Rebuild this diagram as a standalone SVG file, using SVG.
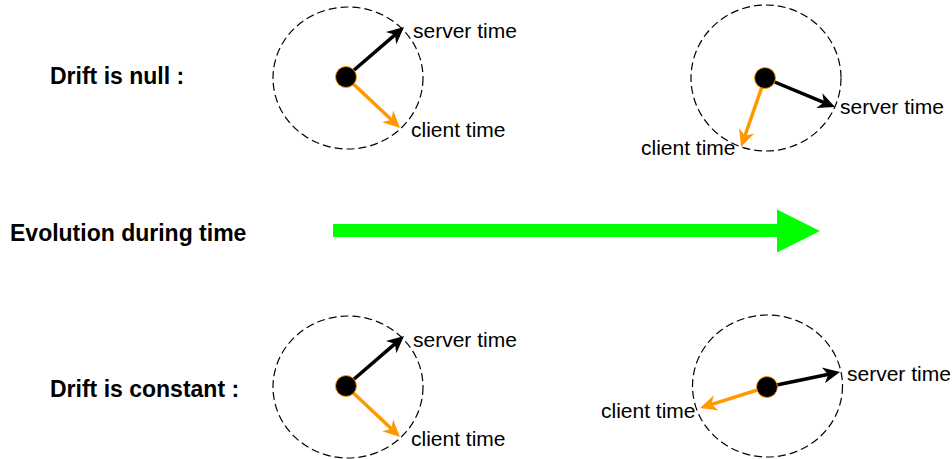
<svg xmlns="http://www.w3.org/2000/svg" width="952" height="459" viewBox="0 0 952 459">
<style>
.face{fill:none;stroke:#000;stroke-width:1.2;stroke-dasharray:8 4}
.dot{fill:#000;stroke:#FF9900;stroke-width:1}
.lbl{font-family:"Liberation Sans",Arial,sans-serif;font-size:21px;fill:#000}
.title{font-family:"Liberation Sans",Arial,sans-serif;font-size:23px;font-weight:bold;fill:#000}
.srv{stroke:#000;stroke-width:3.5;fill:none;marker-end:url(#ab)}
.cli{stroke:#FF9900;stroke-width:3.5;fill:none;marker-end:url(#ao)}
</style>
<defs>
<marker id="ab" markerUnits="userSpaceOnUse" markerWidth="20" markerHeight="18" viewBox="0 -9 20 18" refX="8" refY="0" orient="auto" overflow="visible">
<path d="M0,-8 L17,0 L0,8 L5,0 Z" fill="#000"/>
</marker>
<marker id="ao" markerUnits="userSpaceOnUse" markerWidth="20" markerHeight="18" viewBox="0 -9 20 18" refX="8" refY="0" orient="auto" overflow="visible">
<path d="M0,-8 L17,0 L0,8 L5,0 Z" fill="#FF9900"/>
</marker>
</defs>
<rect width="952" height="459" fill="#fff"/>
<g id="labels">
<text class="title" x="50" y="84">Drift is null :</text>
<text class="title" x="10" y="241">Evolution during time</text>
<text class="title" x="50" y="397">Drift is constant :</text>
</g>
<g id="clock-null-start">
<ellipse class="face" cx="348" cy="78" rx="75" ry="71"/>
</g>
<g id="clock-null-end">
<ellipse class="face" cx="766" cy="78" rx="75" ry="73"/>
</g>
<g id="clock-const-start">
<ellipse class="face" cx="348" cy="387" rx="75" ry="71"/>
</g>
<g id="clock-const-end">
<ellipse class="face" cx="767.5" cy="386" rx="75" ry="71"/>
</g>
<g id="connectors">
<line class="srv" x1="346" y1="77" x2="397.2" y2="32.9"/>
<line class="cli" x1="346" y1="77" x2="393.5" y2="121.8"/>
<line class="srv" x1="765" y1="78" x2="826.7" y2="103.6"/>
<line class="cli" x1="765" y1="78" x2="744" y2="138.5"/>
<line class="srv" x1="346" y1="386" x2="397.2" y2="341.9"/>
<line class="cli" x1="346" y1="386" x2="393.5" y2="430.8"/>
<line class="srv" x1="767" y1="387" x2="831.2" y2="373.8"/>
<line class="cli" x1="767" y1="387" x2="708.6" y2="405.3"/>
<path id="evolution-arrow" d="M333,224 L777,224 L777,209.5 L820,231 L777,252.5 L777,237 L333,237 Z" fill="#00FF00"/>
</g>
<g id="hub-null-start"><circle class="dot" cx="346" cy="77" r="10.5"/></g>
<g id="hub-null-end"><circle class="dot" cx="765" cy="78" r="10.5"/></g>
<g id="hub-const-start"><circle class="dot" cx="346" cy="386" r="10.5"/></g>
<g id="hub-const-end"><circle class="dot" cx="767" cy="387" r="10.5"/></g>
<g id="time-labels">
<text class="lbl" x="413" y="38">server time</text>
<text class="lbl" x="411" y="137">client time</text>
<text class="lbl" x="840" y="114">server time</text>
<text class="lbl" x="641" y="155">client time</text>
<text class="lbl" x="413" y="347">server time</text>
<text class="lbl" x="411" y="446">client time</text>
<text class="lbl" x="847" y="381">server time</text>
<text class="lbl" x="601" y="418">client time</text>
</g>
</svg>
